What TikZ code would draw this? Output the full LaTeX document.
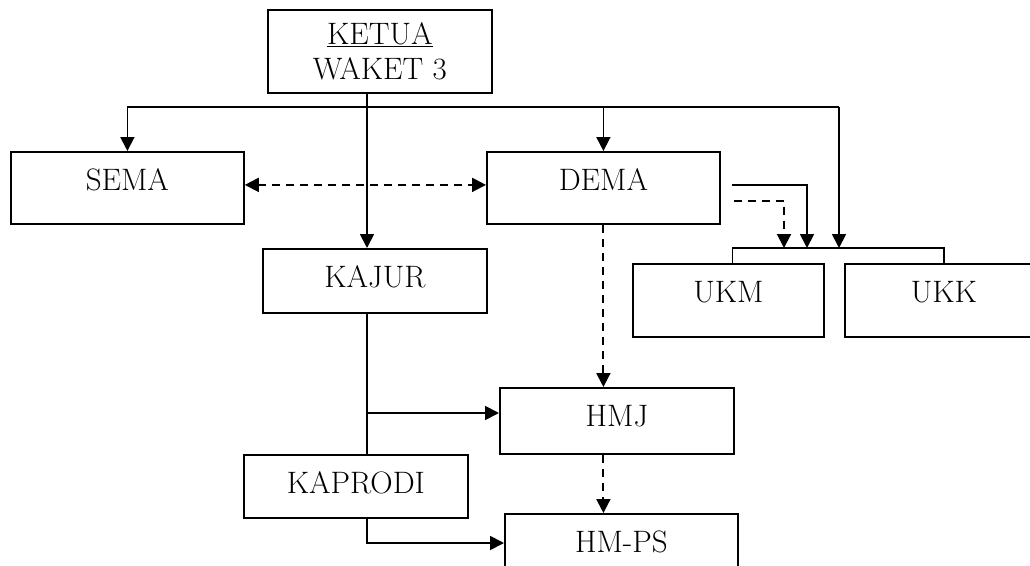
\documentclass[tikz,border=0pt]{standalone}
\usepackage{fontspec}
\usetikzlibrary{arrows.meta}

\begin{document}
\begin{tikzpicture}[x=1pt, y=-1pt, line width=1.8pt,
    >={Triangle[length=14pt,width=14pt]},
    box/.style={draw, anchor=north west, font=\fontsize{31}{35}\selectfont},
    unit/.style={box, inner xsep=0pt, inner ysep=18pt, text height=21pt},
    link/.style={->},
    dashlink/.style={->, line width=2pt, dash pattern=on 8pt off 6pt}]
  \useasboundingbox (0,0) rectangle (1030,565);
  \clip (0,0) rectangle (1030,565);

  % Boxes
  \node[box, minimum width=224pt, minimum height=83pt, inner sep=0pt, align=center]
    (ketua) at (267,9) {\underline{KETUA}\\WAKET 3};
  \node[unit, minimum width=233pt, text depth=15pt] (sema) at (10,151) {SEMA};
  \node[unit, minimum width=233pt, text depth=15pt] (dema) at (486,151) {DEMA};
  \node[unit, minimum width=224pt, text depth=7pt] (kajur) at (262,248) {KAJUR};
  \node[unit, minimum width=191pt, text depth=16pt] (ukm) at (632,263) {UKM};
  \node[unit, minimum width=198pt, text depth=16pt] (ukk) at (844,263) {UKK};
  \node[unit, minimum width=234pt, text depth=9pt] (hmj) at (499,387) {HMJ};
  \node[unit, minimum width=224pt, text depth=6pt] (kaprodi) at (243,454) {KAPRODI};
  \node[unit, minimum width=233pt, text depth=15pt] (hmps) at (504,513) {HM-PS};

  \coordinate (trunk) at (367,107);
  \coordinate (brk) at (839,248);
  \coordinate (fork) at (367,413);
  \coordinate (low) at (367,543);

  % From KETUA
  \draw[link] (ketua.south -| trunk) -- (kajur.north -| trunk);
  \draw (trunk -| sema.north) -- (trunk -| brk);
  \draw[link] (trunk -| sema.north) -- (sema.north);
  \draw[link] (trunk -| dema.north) -- (dema.north);
  \draw[link] (trunk -| brk) -- (brk);
  \draw[dashlink, <->] ([yshift=3pt]sema.east) -- ([yshift=3pt]dema.west);

  % DEMA to UKM / UKK
  \draw[link] ([xshift=11pt,yshift=3pt]dema.east) -| ([xshift=-32pt]brk);
  \draw[dashlink] ([xshift=13pt,yshift=-13pt]dema.east) -| ([xshift=-55pt]brk);
  \draw[line width=1.2pt] ([xshift=4pt]ukm.north) |- (brk) -| (ukk.north);

  % DEMA to HMJ to HM-PS
  \draw[dashlink] (dema.south) -- (dema.south |- hmj.north);
  \draw[dashlink] (hmj.south -| dema.south) -- (hmps.north -| dema.south);

  % KAJUR and KAPRODI
  \draw (kajur.south -| trunk) -- (kaprodi.north -| trunk);
  \draw[link] (fork) -- (fork -| hmj.west);
  \draw[link] (kaprodi.south -| low) |- (low -| hmps.west);
\end{tikzpicture}
\end{document}
